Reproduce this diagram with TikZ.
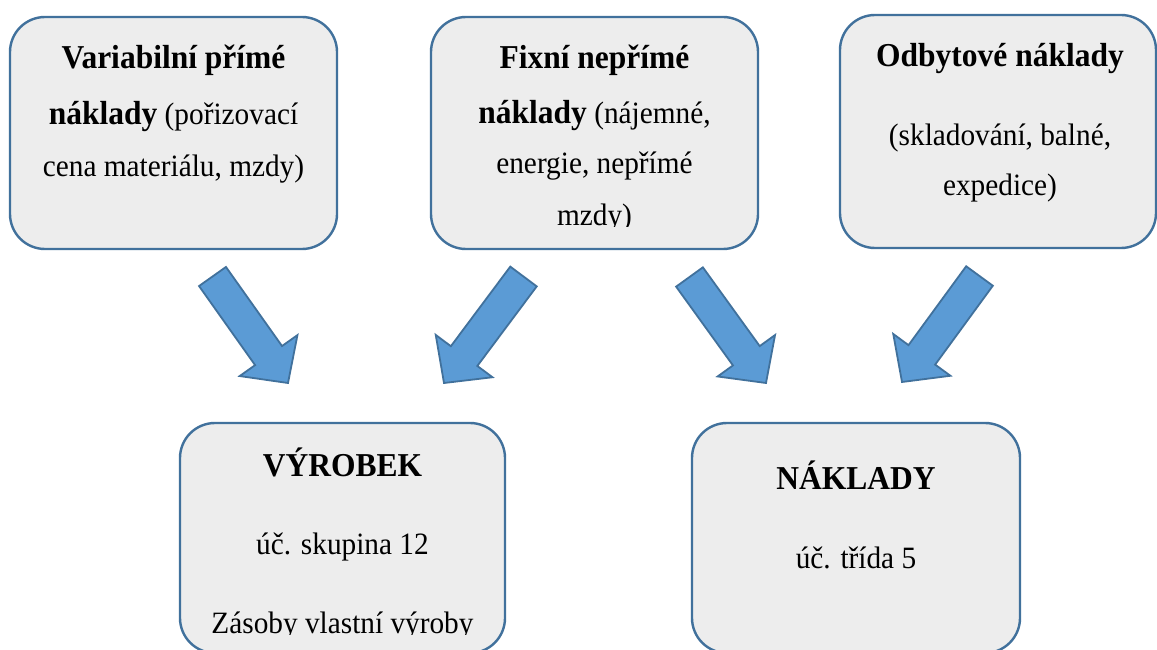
\documentclass[tikz,border=0pt]{standalone}
\usepackage{fontspec}
\setmainfont{Liberation Serif}
\usetikzlibrary{calc}
\definecolor{boxfill}{HTML}{EDEDED}
\definecolor{boxline}{HTML}{41719C}
\definecolor{arrfill}{HTML}{5B9BD5}
\newcommand{\bt}[1]{{\fontsize{31.5}{40}\selectfont\bfseries #1}}
\newcommand{\rt}{\fontsize{29.3}{40}\selectfont}
\newcommand{\st}[1]{\scalebox{1}[1.06]{#1}}
\newcommand{\blockarr}[2]{%
  \coordinate (h) at ($(#2)!33.6pt!(#1)$);
  \draw[blockarrow] ($(#1)!16.5pt!90:(#2)$) -- ($(h)!16.5pt!90:(#2)$) -- ($(h)!35.4pt!90:(#2)$) -- (#2)
    -- ($(h)!35.4pt!-90:(#2)$) -- ($(h)!16.5pt!-90:(#2)$) -- ($(#1)!16.5pt!-90:(#2)$) -- cycle;}
\begin{document}
\begin{tikzpicture}[x=1pt,y=-1pt,
  box/.style={draw=boxline, line width=2.4pt, fill=boxfill, rounded corners=35pt, inner sep=0pt},
  txt/.style={anchor=base, inner sep=0pt, font=\rt},
  blockarrow/.style={draw=boxline, line width=1.8pt, fill=arrfill, line join=miter}]
\useasboundingbox (0,0) rectangle (1157,650);
\fill[white] (0,0) rectangle (1157,650);
% boxes
\node[box, minimum width=327pt, minimum height=232pt] (b1) at (173.5,133) {};
\node[box, minimum width=327pt, minimum height=232pt] (b2) at (594.5,133) {};
\node[box, minimum width=316pt, minimum height=233pt] (b3) at (998,131.5) {};
\node[box, minimum width=325pt, minimum height=230pt] (v) at (342.5,538) {};
\node[box, minimum width=328pt, minimum height=230pt] (n) at (856,538) {};
% texts box 1
\node[txt] (t11) at (173.5,69) {\st{\bt{Variabilní přímé}}};
\node[txt] (t12) at (173.5,125) {\st{\bt{náklady} (pořizovací}};
\node[txt] (t13) at (173.5,176) {\st{cena materiálu, mzdy)}};
% texts box 2
\node[txt] (t21) at (594.5,69) {\st{\bt{Fixní nepřímé}}};
\node[txt] (t22) at (594.5,124) {\st{\bt{náklady} (nájemné,}};
\node[txt] (t23) at (594.5,174) {\st{energie, nepřímé}};
\begin{scope}
\clip (520,190) rectangle (670,226.5);
\node[txt] (t24) at (594.5,225) {\st{mzdy)}};
\end{scope}
% texts box 3
\node[txt] (t31) at (1000,67) {\st{\bt{Odbytové náklady}}};
\node[txt] (t32) at (1000,146) {\st{(skladování, balné,}};
\node[txt] (t33) at (1000,196) {\st{expedice)}};
% bottom boxes
\node[txt] (tv1) at (342.5,476) {\st{\bt{VÝROBEK}}};
\node[txt] (tv2) at (342.5,554) {\st{úč. skupina 12}};
\begin{scope}
\clip (190,590) rectangle (495,634);
\node[txt] (tv3) at (342.5,633) {\st{Zásoby vlastní výroby}};
\end{scope}
\node[txt] (tn1) at (856,489) {\st{\bt{NÁKLADY}}};
\node[txt] (tn2) at (856,568) {\st{úč. třída 5}};
% arrows
\coordinate (a1t) at (212.5,276.5); \coordinate (a1p) at (288,383);
\coordinate (a2t) at (523.5,276.5); \coordinate (a2p) at (444,383);
\coordinate (a3t) at (689.5,277);   \coordinate (a3p) at (766,383);
\coordinate (a4t) at (979.5,276);   \coordinate (a4p) at (902,382);
\blockarr{a1t}{a1p}
\blockarr{a2t}{a2p}
\blockarr{a3t}{a3p}
\blockarr{a4t}{a4p}
\end{tikzpicture}
\end{document}
